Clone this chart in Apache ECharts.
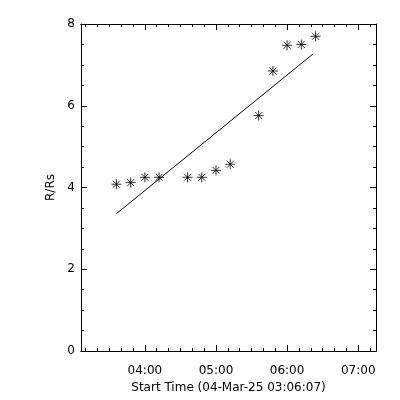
<!DOCTYPE html>
<html><head><meta charset="utf-8">
<script src="https://cdn.jsdelivr.net/npm/echarts@6/dist/echarts.min.js"></script>
<style>html,body{margin:0;padding:0;background:#fff}#c{width:400px;height:400px}</style>
</head><body><div id="c"></div>
<script>
// times in minutes since 00:00 on 04-Mar-25
var obsTimes = ["03:36","03:48","04:00","04:12","04:36","04:48","05:00","05:12","05:36","05:48","06:00","06:12","06:24"];
var obsValues = [4.08, 4.12, 4.25, 4.25, 4.25, 4.25, 4.42, 4.57, 5.76, 6.85, 7.48, 7.50, 7.70];
var fitTimes = ["03:36","06:22"];
var fitValues = [3.36, 7.27];
var majorTickLabels = ["04:00","05:00","06:00","07:00"];
var minorTickTimes = ["03:10","03:20","03:30","03:40","03:50","04:10","04:20","04:30","04:40","04:50","05:10","05:20","05:30","05:40","05:50","06:10","06:20","06:30","06:40","06:50","07:10"];
var yTicks = [0, 2, 4, 6, 8];
var xStart = "03:06:07", xEnd = "07:15:00";

function toMin(s){var p=s.split(":").map(Number);return p[0]*60+p[1]+(p[2]||0)/60;}
function fmt(v){var h=Math.floor(v/60+1e-9),m=Math.round(v-h*60);return (h<10?"0":"")+h+":"+(m<10?"0":"")+m;}

var xMin = toMin(xStart), xMax = toMin(xEnd);
var majorVals = majorTickLabels.map(toMin);
var minorVals = minorTickTimes.map(toMin);
var font = {fontFamily:"DejaVu Sans", fontSize:12, color:"#000"};
var line = {show:true, lineStyle:{color:"#000", width:1}};

function xAx(pos, ticks, len, labels){
  return {type:"value", position:pos, min:xMin, max:xMax, gridIndex:0,
    axisLine:line, splitLine:{show:false},
    axisTick:{show:true, inside:true, length:len, customValues:ticks, lineStyle:{color:"#000"}},
    axisLabel:labels?Object.assign({show:true, customValues:majorVals, margin:14, formatter:fmt},font):{show:false},
    name:labels?"Start Time (04-Mar-25 03:06:07)":"", nameLocation:"middle", nameGap:25,
    nameTextStyle:font};
}
function yAx(pos, labels){
  return {type:"value", position:pos, min:yTicks[0], max:yTicks[yTicks.length-1], interval:2,
    axisLine:line, splitLine:{show:false},
    axisTick:{show:true, inside:true, length:6, lineStyle:{color:"#000"}},
    minorTick:{show:true, splitNumber:4, length:3, lineStyle:{color:"#000"}},
    minorSplitLine:{show:false},
    axisLabel:labels?Object.assign({show:true, margin:6},font):{show:false},
    name:labels?"R/Rs":"", nameLocation:"middle", nameGap:22, nameRotate:90, nameTextStyle:font};
}

var chart = echarts.init(document.getElementById("c"), null, {renderer:"canvas"});
chart.setOption({
  animation:false,
  backgroundColor:"#fff",
  grid:{left:81, right:24, top:24, bottom:49, containLabel:false},
  xAxis:[xAx("bottom", majorVals, 6, true), xAx("bottom", minorVals, 3, false),
         xAx("top", majorVals, 6, false), xAx("top", minorVals, 3, false)],
  yAxis:[yAx("left", true), yAx("right", false)],
  series:[
    {type:"line", xAxisIndex:0, yAxisIndex:0, data:fitTimes.map(function(t,i){return [toMin(t), fitValues[i]];}),
     showSymbol:false, lineStyle:{color:"#000", width:1}},
    {type:"scatter", xAxisIndex:0, yAxisIndex:0, data:obsTimes.map(function(t,i){return [toMin(t), obsValues[i]];}),
     symbol:"path://M5,0L5,10M0,5L10,5M1.5,1.5L8.5,8.5M1.5,8.5L8.5,1.5", symbolSize:10,
     itemStyle:{color:"none", borderColor:"#000", borderWidth:1}}
  ]
});
</script></body></html>
